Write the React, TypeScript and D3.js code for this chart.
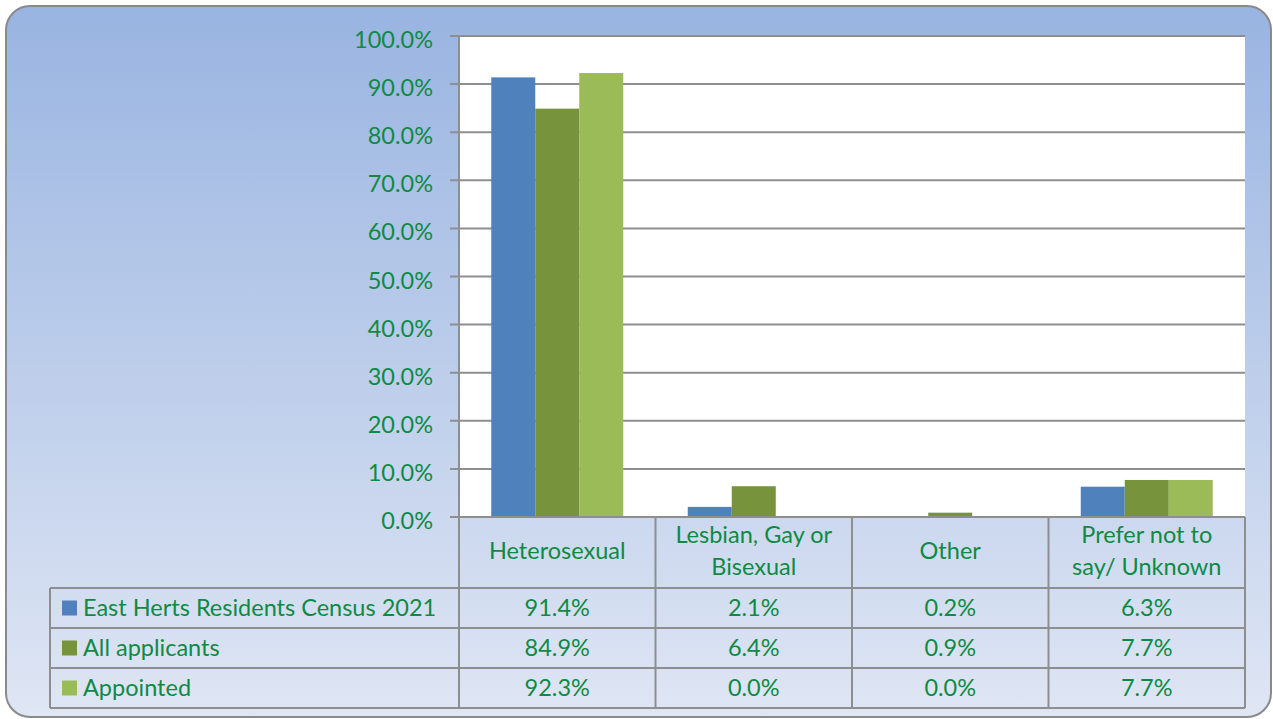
import React from 'react';
import * as d3 from 'd3';

const categories = ['Heterosexual', 'Lesbian, Gay or Bisexual', 'Other', 'Prefer not to say/ Unknown'];
const categoryLines = [['Heterosexual'], ['Lesbian, Gay or', 'Bisexual'], ['Other'], ['Prefer not to', 'say/ Unknown']];
const seriesNames = ['East Herts Residents Census 2021', 'All applicants', 'Appointed'];
const censusValues = [0.914, 0.021, 0.002, 0.063];
const applicantValues = [0.849, 0.064, 0.009, 0.077];
const appointedValues = [0.923, 0.0, 0.0, 0.077];
const yTicks = [0, 0.1, 0.2, 0.3, 0.4, 0.5, 0.6, 0.7, 0.8, 0.9, 1.0];

const colors = ['#4f81bd', '#77933c', '#9bbb59'];
const textColor = '#0e8a44';
const lineColor = '#8e8e8e';
const font = 'Lato, "Open Sans", sans-serif';
const fs = 23.5;

const W = 1273;
const H = 719;
const plot = { left: 459, right: 1245, top: 36, bottom: 517 };
const table = { left: 50, headerBottom: 588, rowH: 40 };

export default function App() {
  const series = [censusValues, applicantValues, appointedValues];

  const x0 = d3.scaleBand<string>().domain(categories).range([plot.left, plot.right]).padding(0);
  const x1 = d3
    .scaleBand<number>()
    .domain([0, 1, 2])
    .range([0, x0.bandwidth()])
    .paddingInner(0)
    .paddingOuter(0.733);
  const y = d3.scaleLinear().domain([0, 1]).range([plot.bottom, plot.top]);
  const fmt = d3.format('.1%');

  const tableBottom = table.headerBottom + table.rowH * seriesNames.length;
  const bounds = [...categories.map(c => x0(c) as number), plot.right];

  return (
    <svg width={W} height={H} style={{ position: 'absolute', left: 0, top: 0 }} fontFamily={font}>
      <defs>
        <linearGradient id="bg" x1="0" y1="0" x2="0" y2="1">
          <stop offset="0%" stopColor="#99b4e1" />
          <stop offset="100%" stopColor="#dfe6f4" />
        </linearGradient>
      </defs>
      <rect x={6} y={6} width={W - 8} height={H - 8} rx={24} ry={24} fill="url(#bg)" stroke="#8a8a8a" strokeWidth={2} />

      {/* plot area */}
      <rect x={plot.left} y={plot.top} width={plot.right - plot.left} height={plot.bottom - plot.top} fill="#ffffff" />
      {yTicks.map(t => (
        <g key={t}>
          <line x1={plot.left - 9} x2={plot.right} y1={y(t)} y2={y(t)} stroke={lineColor} strokeWidth={2} />
          <text x={433} y={y(t) + 12} textAnchor="end" fontSize={fs} fill={textColor}>
            {fmt(t)}
          </text>
        </g>
      ))}
      <line x1={plot.left} x2={plot.left} y1={plot.top} y2={plot.bottom} stroke={lineColor} strokeWidth={2} />

      {categories.map((c, ci) => (
        <g key={c}>
          {series.map((vals, si) => (
            <rect
              key={si}
              x={(x0(c) as number) + (x1(si) as number)}
              y={y(vals[ci])}
              width={x1.bandwidth()}
              height={plot.bottom - y(vals[ci])}
              fill={colors[si]}
            />
          ))}
        </g>
      ))}

      {/* data table */}
      <line x1={plot.left} x2={plot.right} y1={plot.bottom} y2={plot.bottom} stroke={lineColor} strokeWidth={2} />
      {seriesNames.map((_, i) => (
        <line
          key={i}
          x1={table.left}
          x2={plot.right}
          y1={table.headerBottom + table.rowH * i}
          y2={table.headerBottom + table.rowH * i}
          stroke={lineColor}
          strokeWidth={2}
        />
      ))}
      <line x1={table.left} x2={plot.right} y1={tableBottom} y2={tableBottom} stroke={lineColor} strokeWidth={2} />
      <line x1={table.left} x2={table.left} y1={table.headerBottom} y2={tableBottom} stroke={lineColor} strokeWidth={2} />
      {bounds.map((b, i) => (
        <line key={i} x1={b} x2={b} y1={plot.bottom} y2={tableBottom} stroke={lineColor} strokeWidth={2} />
      ))}

      {categories.map((c, ci) => {
        const cx = (x0(c) as number) + x0.bandwidth() / 2;
        const lines = categoryLines[ci];
        const mid = (plot.bottom + table.headerBottom) / 2;
        return (
          <text key={c} textAnchor="middle" fontSize={fs} fill={textColor}>
            {lines.map((l, li) => (
              <tspan key={li} x={cx} y={mid + 6.5 + (li - (lines.length - 1) / 2) * 32}>
                {l}
              </tspan>
            ))}
          </text>
        );
      })}

      {seriesNames.map((name, si) => {
        const cy = table.headerBottom + table.rowH * si + table.rowH / 2;
        return (
          <g key={name}>
            <rect x={62} y={cy - 7.5} width={15} height={15} fill={colors[si]} />
            <text x={83} y={cy + 7.5} fontSize={fs} fill={textColor}>
              {name}
            </text>
            {categories.map((c, ci) => (
              <text
                key={c}
                x={(x0(c) as number) + x0.bandwidth() / 2}
                y={cy + 7.5}
                textAnchor="middle"
                fontSize={fs}
                fill={textColor}
              >
                {fmt(series[si][ci])}
              </text>
            ))}
          </g>
        );
      })}
    </svg>
  );
}
